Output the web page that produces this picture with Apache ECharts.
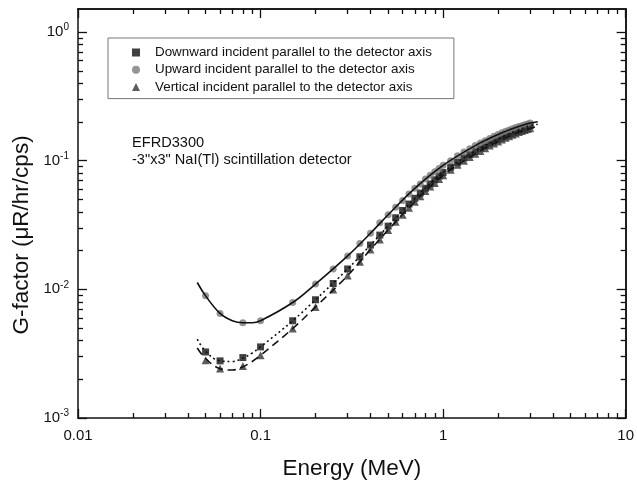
<!DOCTYPE html>
<html>
<head>
<meta charset="utf-8">
<script src="https://cdn.jsdelivr.net/npm/echarts@6/dist/echarts.min.js"></script>
<style>
  html, body { margin: 0; padding: 0; background: #fff; }
  #chart { width: 637px; height: 485px; }
</style>
</head>
<body>
<div id="chart"></div>
<script>
// marker energies (MeV)
var energies = [0.05, 0.06, 0.08, 0.1, 0.15, 0.2, 0.25, 0.3, 0.35, 0.4, 0.45, 0.5,
  0.55, 0.6, 0.65, 0.7, 0.75, 0.8, 0.85, 0.9, 0.95, 1.0,
  1.1, 1.2, 1.3, 1.4, 1.5, 1.6, 1.7, 1.8, 1.9, 2.0, 2.1, 2.2, 2.3, 2.4, 2.5, 2.6, 2.7, 2.8, 2.9, 3.0];

// G-factor (uR/hr/cps)
var downward = [0.00326, 0.00278, 0.00295, 0.00357, 0.0057, 0.0083, 0.0111, 0.0144, 0.0179, 0.0221, 0.0264, 0.031,
  0.036, 0.041, 0.046, 0.051, 0.056, 0.061, 0.066, 0.071, 0.076, 0.081,
  0.089, 0.097, 0.105, 0.112, 0.119, 0.125, 0.131, 0.137, 0.143, 0.148, 0.153, 0.158, 0.162, 0.166, 0.17, 0.174, 0.178, 0.181, 0.184, 0.187];
var upward = [0.0089, 0.0065, 0.0055, 0.0057, 0.0079, 0.011, 0.0144, 0.0182, 0.0227, 0.0273, 0.033, 0.038,
  0.0435, 0.049, 0.055, 0.061, 0.066, 0.072, 0.077, 0.082, 0.087, 0.092,
  0.1, 0.109, 0.117, 0.124, 0.131, 0.137, 0.143, 0.149, 0.155, 0.16, 0.165, 0.169, 0.173, 0.177, 0.181, 0.184, 0.187, 0.19, 0.193, 0.196];
var vertical = [0.00281, 0.00242, 0.00254, 0.00307, 0.00496, 0.0073, 0.00997, 0.0128, 0.0164, 0.0204, 0.0244, 0.0289,
  0.0335, 0.038, 0.043, 0.048, 0.053, 0.058, 0.063, 0.067, 0.072, 0.077,
  0.085, 0.093, 0.1, 0.107, 0.113, 0.119, 0.125, 0.131, 0.136, 0.141, 0.146, 0.151, 0.155, 0.159, 0.163, 0.167, 0.17, 0.173, 0.176, 0.179];

// fitted curves
var fitEnergies = [0.045, 0.05, 0.06, 0.07, 0.08, 0.09, 0.1, 0.15, 0.2, 0.3, 0.4, 0.5, 0.7, 1.0, 1.5, 2.0, 2.5, 3.0, 3.3];
var downFit = [0.0041, 0.0033, 0.00278, 0.00275, 0.00292, 0.0032, 0.00357, 0.0057, 0.0083, 0.0144, 0.0221, 0.031, 0.051, 0.081, 0.119, 0.148, 0.17, 0.187, 0.192];
var upFit = [0.0113, 0.0089, 0.0065, 0.0057, 0.0055, 0.0055, 0.0057, 0.0079, 0.011, 0.0182, 0.0273, 0.038, 0.061, 0.092, 0.131, 0.16, 0.181, 0.196, 0.201];
var vertFit = [0.0035, 0.0029, 0.00242, 0.00236, 0.0025, 0.00275, 0.00307, 0.00496, 0.0073, 0.0128, 0.0204, 0.0289, 0.048, 0.077, 0.113, 0.141, 0.163, 0.179, 0.185];

// ticks
var xMajor = [0.01, 0.1, 1, 10];
var xMinor = [0.02, 0.03, 0.04, 0.05, 0.06, 0.07, 0.08, 0.09, 0.2, 0.3, 0.4, 0.5, 0.6, 0.7, 0.8, 0.9, 2, 3, 4, 5, 6, 7, 8, 9];
var yMajor = [0.001, 0.01, 0.1, 1];
var yMinor = [0.002, 0.003, 0.004, 0.005, 0.006, 0.007, 0.008, 0.009, 0.02, 0.03, 0.04, 0.05, 0.06, 0.07, 0.08, 0.09, 0.2, 0.3, 0.4, 0.5, 0.6, 0.7, 0.8, 0.9];

var names = ['Downward incident parallel to the detector axis',
  'Upward incident parallel to the detector axis',
  'Vertical incident parallel to the detector axis'];

var FONT = 'Liberation Sans';
var INK = '#111';

function pairs(xs, ys) {
  return xs.map(function (x, i) { return [x, ys[i]]; });
}

function xAx(pos, ticks, len, withLabels) {
  return {
    type: 'log', min: 0.01, max: 10, position: pos,
    axisLine: { show: withLabels || pos === 'top', lineStyle: { color: INK, width: 1.5 } },
    axisTick: { show: true, inside: true, length: len, customValues: ticks, lineStyle: { color: INK, width: 1.3 } },
    axisLabel: withLabels ? {
      show: true, customValues: xMajor, margin: 10, color: INK, fontFamily: FONT, fontSize: 15,
      formatter: function (v) { return String(+v.toPrecision(3)); }
    } : { show: false },
    splitLine: { show: false }
  };
}

function yAx(pos, ticks, len, withLabels) {
  return {
    type: 'log', min: 0.001, max: 1.51, position: pos,
    axisLine: { show: withLabels || pos === 'right', lineStyle: { color: INK, width: 1.5 } },
    axisTick: { show: true, inside: true, length: len, customValues: ticks, lineStyle: { color: INK, width: 1.3 } },
    axisLabel: withLabels ? {
      show: true, customValues: yMajor, margin: 9, color: INK, fontFamily: FONT,
      formatter: function (v) {
        var e = Math.round(Math.log(v) / Math.LN10);
        return '{b|10}{s|' + e + '}';
      },
      rich: {
        b: { fontSize: 15, fontFamily: FONT, color: INK },
        s: { fontSize: 10, fontFamily: FONT, color: INK, padding: [0, 0, 9, 0] }
      }
    } : { show: false },
    splitLine: { show: false }
  };
}

var chart = echarts.init(document.getElementById('chart'));

var option = {
  animation: false,
  backgroundColor: '#fff',
  grid: { left: 78, right: 8, top: 9, bottom: 67 },
  xAxis: [
    Object.assign(xAx('bottom', xMajor, 9, true), {
      name: 'Energy (MeV)', nameLocation: 'middle', nameGap: 39,
      nameTextStyle: { fontFamily: FONT, fontSize: 22.5, color: INK }
    }),
    xAx('top', xMajor, 9, false),
    xAx('bottom', xMinor, 5, false),
    xAx('top', xMinor, 5, false)
  ],
  yAxis: [
    yAx('left', yMajor, 9, true),
    yAx('right', yMajor, 9, false),
    yAx('left', yMinor, 5, false),
    yAx('right', yMinor, 5, false)
  ],
  legend: {
    orient: 'vertical', left: 108, top: 38,
    padding: [7, 22, 4, 24], itemGap: 2.3, itemWidth: 8, itemHeight: 8,
    borderColor: '#777', borderWidth: 1, backgroundColor: '#fff',
    textStyle: { fontFamily: FONT, fontSize: 13.4, color: INK, lineHeight: 15, padding: [0, 0, 0, 10] },
    data: names
  },
  graphic: [
    {
      type: 'text', x: 22, y: 235, rotation: Math.PI / 2,
      style: { text: 'G-factor (\u03bcR/hr/cps)', font: '22.5px "Liberation Sans"', fill: INK, align: 'center', verticalAlign: 'middle' }
    },
    {
      type: 'text', left: 132, top: 134,
      style: { text: 'EFRD3300\n-3"x3" NaI(Tl) scintillation detector', font: '14.6px "Liberation Sans"', lineHeight: 17.5, fill: INK }
    }
  ],
  series: [
    {
      name: names[0], type: 'scatter', symbol: 'rect', symbolSize: 7,
      itemStyle: { color: '#111' }, data: pairs(energies, downward), z: 3
    },
    {
      name: names[1], type: 'scatter', symbol: 'circle', symbolSize: 7,
      itemStyle: { color: '#7a7a7a' }, data: pairs(energies, upward), z: 3
    },
    {
      name: names[2], type: 'scatter', symbol: 'triangle', symbolSize: 8,
      itemStyle: { color: '#333' }, data: pairs(energies, vertical), z: 3
    },
    {
      name: 'downFit', type: 'line', smooth: 0.4, showSymbol: false, symbol: 'none',
      lineStyle: { color: '#111', width: 1.6, type: [2, 3] }, data: pairs(fitEnergies, downFit), z: 4
    },
    {
      name: 'upFit', type: 'line', smooth: 0.4, showSymbol: false, symbol: 'none',
      lineStyle: { color: '#111', width: 1.6 }, data: pairs(fitEnergies, upFit), z: 4
    },
    {
      name: 'vertFit', type: 'line', smooth: 0.4, showSymbol: false, symbol: 'none',
      lineStyle: { color: '#111', width: 1.6, type: [8, 5] }, data: pairs(fitEnergies, vertFit), z: 4
    }
  ]
};

chart.setOption(option);
</script>
</body>
</html>
